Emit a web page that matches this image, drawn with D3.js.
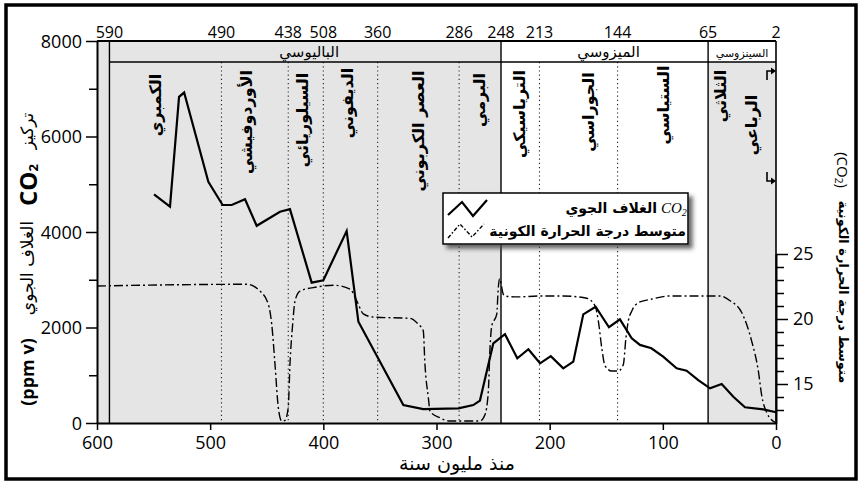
<!DOCTYPE html>
<html><head><meta charset="utf-8">
<script src="https://cdn.jsdelivr.net/npm/d3@7"></script>
<style>
body{margin:0;background:#fff;}
svg{display:block;}
.num{font-family:"Open Sans",sans-serif;}
.ar{font-family:"DejaVu Sans",sans-serif;}
</style></head><body>
<svg id="c" width="862" height="487"></svg>
<script>
// ---------- data ----------
const co2Ma  = [549.6,535.5,527.5,523,501.6,489,481,469.2,458.9,438.3,429.5,410.3,400,379.4,369,329.3,311.7,280.7,267.5,261.6,249.8,239.5,228.6,218.8,208.5,199,188,179.1,170.3,159.4,147.6,137.9,127.5,120.2,110.1,99.7,87.8,79,68.7,58.3,48,37.7,27.4,11.2,0];
const co2Ppm = [4790,4530,6830,6920,5050,4565,4565,4685,4130,4425,4480,2940,2990,4020,2120,375,290,305,375,470,1670,1860,1355,1545,1250,1400,1145,1285,2275,2435,2005,2170,1775,1635,1565,1390,1145,1095,900,725,815,550,330,285,225];
const tempMa = [600,467.7,456,448.6,445.6,442.7,439.8,436.8,433.9,431,429.5,427.1,425,420.6,405.9,391.2,376.4,370.5,364.7,355.8,323.4,316.1,311.7,310.2,307.2,305.7,296.9,288.1,261.6,257.1,254.2,252.7,251.2,246.8,245.4,244.3,241,239.5,229.1,208.5,188,167.3,159.9,157,154,151.1,145.2,139.4,134.9,132.6,130.5,127.5,121.7,111.4,93.7,76,49.5,40.6,30.3,21.5,15.6,12.6,8.2,0];
const tempC  = [22.54,22.67,22.15,21.13,19.6,16.5,13.2,12.15,12.2,13.2,16.5,19.6,21.4,22.15,22.46,22.6,22.3,21.4,20.4,20.15,20.05,19.6,19.1,16.5,13.95,12.9,12.4,12.15,12.15,12.65,14.45,17.8,19.45,20.35,22.4,23.1,21.9,21.77,21.7,21.77,21.77,21.6,21.0,19.85,17.8,16.4,16.0,16.0,16.5,18.55,19.85,20.6,21.25,21.5,21.77,21.77,21.77,21.4,20.5,18.3,16.0,14.1,12.8,12.0];

const boundaryMa  = [589,490,431,400,352,280,243,209,140,60,0];
const topLabels   = ["590","490","438","508","360","286","248","213","144","65","2"];
const dottedMa    = [490,431,400,352,280,209,140];
const solidMa     = [589,243,60];
const eras        = [{name:"الباليوسي",from:589,to:243,size:15},{name:"الميزوسي",from:243,to:60,size:15},{name:"السينزوسي",from:60,to:0,size:11}];
const periods     = [
  {name:"الكمبري",ma:548,yc:105},
  {name:"الأوردوفيشي",ma:468,yc:122},
  {name:"السيلوريائي",ma:418,yc:120},
  {name:"الديفوني",ma:379,yc:103},
  {name:"العصر الكربوني",ma:316,yc:131},
  {name:"البرمي",ma:262,yc:100},
  {name:"الترياسيكي",ma:227,yc:114},
  {name:"الجوراسي",ma:166,yc:112},
  {name:"الستياسي",ma:99,yc:105},
  {name:"الثلاثي",ma:49,yc:96},
  {name:"الرباعي",ma:22,yc:125}
];
const xTicks = [600,500,400,300,200,100,0];
const yTicks = [0,2000,4000,6000,8000];
const yMinor = [1000,3000,5000,7000];
const tTicks = [15,20,25];
const tMinor = [13,14,16,17,18,19,21,22,23,24];
const legendItems = ["الغلاف الجوي","متوسط درجة الحرارة الكونية"];

// ---------- scales ----------
const svg = d3.select("#c");
const x  = d3.scaleLinear().domain([600,0]).range([97,776]);
const y  = d3.scaleLinear().domain([0,8000]).range([423,41]);
const yT = d3.scaleLinear().domain([12,25]).range([423,254]);
const yTop = y(8000), yBot = y(0), hdr = 62;
const gray = "#e5e5e5";

// outer frame
svg.append("rect").attr("x",6).attr("y",5).attr("width",850).attr("height",474)
  .attr("fill","#fff").attr("stroke","#000").attr("stroke-width",3.5);

// shading
svg.append("rect").attr("x",x(600)).attr("y",yTop).attr("width",x(243)-x(600)).attr("height",yBot-yTop).attr("fill",gray);
svg.append("rect").attr("x",x(60)).attr("y",hdr).attr("width",x(0)-x(60)).attr("height",yBot-hdr).attr("fill",gray);

// dotted period lines
svg.selectAll(".dot").data(dottedMa).join("line")
  .attr("x1",d=>x(d)).attr("x2",d=>x(d)).attr("y1",hdr).attr("y2",yBot)
  .attr("stroke","#222").attr("stroke-width",1.1).attr("stroke-dasharray","1.2,3");
// solid era lines
svg.selectAll(".sol").data(solidMa).join("line")
  .attr("x1",d=>x(d)).attr("x2",d=>x(d)).attr("y1",yTop).attr("y2",yBot)
  .attr("stroke","#000").attr("stroke-width",1.4);
// header separator
svg.append("line").attr("x1",x(589)).attr("x2",x(0)).attr("y1",hdr).attr("y2",hdr).attr("stroke","#000").attr("stroke-width",1.4);
// top border and right border
svg.append("line").attr("x1",x(600)).attr("x2",x(0)).attr("y1",yTop).attr("y2",yTop).attr("stroke","#000").attr("stroke-width",2);
svg.append("line").attr("x1",x(0)).attr("x2",x(0)).attr("y1",yTop).attr("y2",yBot).attr("stroke","#000").attr("stroke-width",1.6);

// era names
svg.selectAll(".era").data(eras).join("text").attr("class","ar")
  .attr("x",d=>(x(d.from)+x(d.to))/2+(d.size>12?4:0)).attr("y",57).attr("text-anchor","middle")
  .attr("font-size",d=>d.size).text(d=>d.name);

// period names (vertical)
svg.selectAll(".per").data(periods).join("text").attr("class","ar")
  .attr("transform",d=>`translate(${x(d.ma)},${d.yc}) rotate(-90)`)
  .attr("text-anchor","middle").attr("dominant-baseline","central")
  .attr("font-size",16).attr("font-weight","bold").text(d=>d.name);

// cenozoic arrows
const ar = svg.append("g").attr("fill","#000").attr("stroke","#000");
ar.append("path").attr("d","M767,80V71H771").attr("fill","none").attr("stroke-width",1.6);
ar.append("path").attr("d","M771,67.5L776,71L771,74.5Z").attr("stroke","none");
ar.append("path").attr("d","M767,172V181H771").attr("fill","none").attr("stroke-width",1.6);
ar.append("path").attr("d","M771,177.5L776,181L771,184.5Z").attr("stroke","none");

// top labels
svg.selectAll(".tl").data(boundaryMa).join("text").attr("class","num")
  .attr("x",d=>x(d)).attr("y",38).attr("text-anchor","middle").attr("font-size",16)
  .text((d,i)=>topLabels[i]);

// temperature line
const tLine = d3.line().x((d,i)=>x(tempMa[i])).y(d=>yT(d)).curve(d3.curveMonotoneX);
svg.append("path").attr("d",tLine(tempC)).attr("fill","none").attr("stroke","#000")
  .attr("stroke-width",1.4).attr("stroke-dasharray","9,3,2,3");
// co2 line
const cLine = d3.line().x((d,i)=>x(co2Ma[i])).y(d=>y(d));
svg.append("path").attr("d",cLine(co2Ppm)).attr("fill","none").attr("stroke","#000")
  .attr("stroke-width",2.2).attr("stroke-linejoin","miter");

// axes
const gx = svg.append("g").attr("transform",`translate(0,${yBot})`)
  .call(d3.axisBottom(x).tickValues(xTicks).tickSize(7).tickSizeOuter(0).tickFormat(d3.format("d")));
const gy = svg.append("g").attr("transform",`translate(${x(600)},0)`)
  .call(d3.axisLeft(y).tickValues(yTicks).tickSize(11).tickSizeOuter(0).tickFormat(d3.format("d")));
svg.append("g").attr("transform",`translate(${x(600)},0)`)
  .call(d3.axisLeft(y).tickValues(yMinor).tickSize(8).tickFormat("")).select(".domain").remove();
const gr = svg.append("g").attr("transform",`translate(${x(0)},0)`)
  .call(d3.axisRight(yT).tickValues(tTicks).tickSize(12).tickSizeOuter(0));
svg.append("g").attr("transform",`translate(${x(0)},0)`)
  .call(d3.axisRight(yT).tickValues(tMinor).tickSize(8).tickFormat("")).select(".domain").remove();
svg.selectAll(".domain").attr("stroke-width",2);
svg.selectAll(".tick line").attr("stroke-width",1.5);
[gx,gy,gr].forEach(g=>g.selectAll("text").attr("font-family","'Open Sans',sans-serif").attr("font-size",18).attr("fill","#000"));
gx.selectAll("text").attr("dy","0.9em");
gy.selectAll("text").attr("dx","-1").attr("dy","0.36em");
gr.selectAll("text").attr("dx","2");

// x title
svg.append("text").attr("class","ar").attr("x",457).attr("y",470).attr("text-anchor","middle")
  .attr("font-size",19).text("منذ مليون سنة");

// left y title pieces
const lt = [
  {t:"تركيز",y:131,s:17,w:"normal",f:"ar"},
  {t:"الغلاف الجوي",y:268,s:17,w:"normal",f:"ar"},
  {t:"(ppm v)",y:372,s:18,w:"bold",f:"num"}
];
svg.selectAll(".lt").data(lt).join("text").attr("class",d=>d.f)
  .attr("transform",d=>`translate(27,${d.y}) rotate(-90)`).attr("text-anchor","middle")
  .attr("dominant-baseline","central").attr("font-size",d=>d.s).attr("font-weight",d=>d.w).text(d=>d.t);
const co2t = svg.append("text").attr("class","num").attr("transform","translate(27,185) rotate(-90)")
  .attr("text-anchor","middle").attr("dominant-baseline","central").attr("font-size",24).attr("font-weight","bold");
co2t.append("tspan").text("CO");
co2t.append("tspan").attr("font-size",13).attr("dy",6).text("2");

// right y title pieces
svg.append("text").attr("class","ar").attr("transform","translate(843,292) rotate(90)")
  .attr("text-anchor","middle").attr("dominant-baseline","central").attr("font-size",13).attr("font-weight","bold")
  .text("متوسط درجة الحرارة الكونية");
const rc = svg.append("text").attr("class","num").attr("transform","translate(843,170) rotate(90)")
  .attr("text-anchor","middle").attr("dominant-baseline","central").attr("font-size",15);
rc.append("tspan").text("(CO");
rc.append("tspan").attr("font-size",10).attr("dy",4).text("2");
rc.append("tspan").attr("dy",-4).text(")");

// legend
const defs = svg.append("defs");
const f = defs.append("filter").attr("id","sh").attr("x","-10%").attr("y","-20%").attr("width","130%").attr("height","160%");
f.append("feDropShadow").attr("dx",4).attr("dy",4).attr("stdDeviation",2).attr("flood-color","#444").attr("flood-opacity",0.8);
const lg = svg.append("g");
lg.append("rect").attr("x",443).attr("y",193).attr("width",245).attr("height",51)
  .attr("fill","#fff").attr("stroke","#000").attr("stroke-width",1.5).attr("filter","url(#sh)");
lg.append("path").attr("d","M448,215L462,202L473,216L487,200").attr("fill","none").attr("stroke","#000").attr("stroke-width",2.2);
lg.append("path").attr("d","M448,238L460,224L472,237L484,224").attr("fill","none").attr("stroke","#000").attr("stroke-width",1.4).attr("stroke-dasharray","4,2,1.5,2");
const l1 = lg.append("text").attr("x",657).attr("y",213).attr("text-anchor","end").attr("class","ar")
  .attr("font-size",14).attr("font-weight","bold").text(legendItems[0]);
const l1c = lg.append("text").attr("x",661).attr("y",213).attr("font-family","'Liberation Serif',serif").attr("font-style","italic").attr("font-size",15);
l1c.append("tspan").text("CO");
l1c.append("tspan").attr("font-size",10).attr("dy",3).text("2");
lg.append("text").attr("x",686).attr("y",236).attr("text-anchor","end").attr("class","ar")
  .attr("font-size",14).attr("font-weight","bold").text(legendItems[1]);
</script>
</body></html>
